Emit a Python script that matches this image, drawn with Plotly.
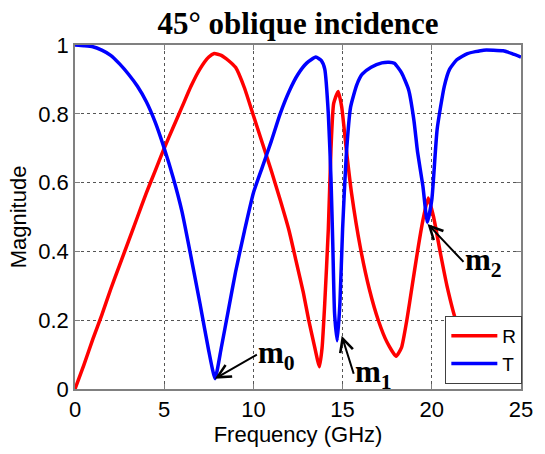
import plotly.graph_objects as go

# Frequency (GHz) and magnitudes
freq_R = [0, 0.5, 1.0, 1.5, 2.0, 2.5, 3.0, 3.5, 4.0, 4.5, 5.0, 5.5, 6.0, 6.5, 7.0, 7.5, 7.8,
          8.2, 8.6, 9.0, 9.5, 10.0, 10.5, 11.0, 11.5, 12.0, 12.4, 12.8, 13.1, 13.4, 13.7,
          13.85, 14.0, 14.2, 14.35, 14.5, 14.75, 14.95, 15.2, 15.5, 16.0, 16.5, 17.0, 17.5,
          18.0, 18.3, 18.6, 18.9, 19.2, 19.5, 19.8, 20.1, 20.5, 20.85, 21.35, 22.0, 22.5,
          23.0, 23.5, 24.0, 24.5, 25.0]
R = [0.0, 0.07, 0.145, 0.215, 0.29, 0.36, 0.43, 0.50, 0.57, 0.635, 0.70, 0.76, 0.82, 0.88,
     0.93, 0.965, 0.975, 0.97, 0.955, 0.935, 0.875, 0.795, 0.715, 0.635, 0.55, 0.46, 0.37,
     0.28, 0.2, 0.13, 0.065, 0.12, 0.25, 0.465, 0.70, 0.83, 0.865, 0.82, 0.70, 0.57, 0.41,
     0.29, 0.2, 0.135, 0.095, 0.12, 0.2, 0.3, 0.4, 0.49, 0.555, 0.5, 0.39, 0.30, 0.20, 0.13,
     0.10, 0.09, 0.09, 0.11, 0.15, 0.21]

freq_T = [0, 0.5, 1.0, 1.5, 2.0, 2.5, 3.0, 3.5, 4.0, 4.5, 5.0, 5.5, 6.0, 6.5, 7.0, 7.5, 7.85,
          8.2, 8.6, 9.0, 9.5, 10.0, 10.5, 11.0, 11.5, 12.0, 12.5, 13.0, 13.5, 13.8, 14.0,
          14.2, 14.35, 14.45, 14.55, 14.7, 14.85, 15.0, 15.2, 15.45, 15.8, 16.1, 16.6, 17.2,
          17.6, 17.9, 18.3, 18.7, 19.0, 19.2, 19.5, 19.75, 20.0, 20.3, 20.7, 21.0, 21.4, 22.0,
          22.9, 24.0, 24.5, 25.0]
T = [1.0, 0.998, 0.995, 0.985, 0.97, 0.945, 0.915, 0.88, 0.835, 0.775, 0.70, 0.615, 0.515,
     0.385, 0.25, 0.11, 0.03, 0.12, 0.23, 0.34, 0.46, 0.57, 0.645, 0.72, 0.80, 0.865, 0.915,
     0.948, 0.965, 0.955, 0.93, 0.80, 0.61, 0.42, 0.22, 0.14, 0.25, 0.465, 0.675, 0.82,
     0.885, 0.915, 0.935, 0.948, 0.95, 0.947, 0.92, 0.87, 0.78, 0.69, 0.59, 0.485, 0.55,
     0.755, 0.88, 0.93, 0.957, 0.975, 0.985, 0.983, 0.975, 0.965]

x_ticks = [0, 5, 10, 15, 20, 25]
y_ticks = [0, 0.2, 0.4, 0.6, 0.8, 1]
y_ticktext = ["0", "0.2", "0.4", "0.6", "0.8", "1"]

# markers: label, point (freq, magnitude), pixel offset of label's left-middle from point
marker_labels = ["m<sub>0</sub>", "m<sub>1</sub>", "m<sub>2</sub>"]
marker_pts = [(7.84, 0.03), (14.95, 0.155), (19.76, 0.48)]
label_offsets = [(42, -24), (12, 38), (36, 38)]

fig = go.Figure()
fig.add_trace(go.Scatter(x=freq_R, y=R, name="R", mode="lines",
                         line=dict(color="#ff0000", width=3.5, shape="spline", smoothing=0.5)))
fig.add_trace(go.Scatter(x=freq_T, y=T, name="T", mode="lines",
                         line=dict(color="#0000ff", width=3.5, shape="spline", smoothing=0.5)))

for lab, (px, py), (ax, ay) in zip(marker_labels, marker_pts, label_offsets):
    fig.add_annotation(x=px, y=py, text="<b>" + lab + "</b>", showarrow=True,
                       ax=ax, ay=ay, xanchor="left", yanchor="middle",
                       arrowhead=5, arrowsize=1.3, arrowwidth=2, arrowcolor="black",
                       standoff=0, borderpad=0,
                       font=dict(family="Liberation Serif", size=31, color="black"))

axis_common = dict(showline=True, linecolor="#808080", linewidth=1.5, mirror="ticks",
                   ticks="inside", ticklen=5, tickcolor="#808080",
                   showgrid=True, gridcolor="#555555", griddash="dot", gridwidth=1,
                   zeroline=False,
                   tickfont=dict(family="Liberation Sans", size=22, color="black"))

fig.update_xaxes(range=[0, 25], tickvals=x_ticks, title=dict(text="Frequency (GHz)",
                 font=dict(family="Liberation Sans", size=22, color="black"), standoff=4),
                 **axis_common)
fig.update_yaxes(range=[0, 1], tickvals=y_ticks, ticktext=y_ticktext,
                 title=dict(text="Magnitude", font=dict(family="Liberation Sans", size=22,
                                                         color="black"), standoff=6),
                 **axis_common)

fig.update_layout(
    width=545, height=454,
    margin=dict(l=75, r=17, t=45, b=63),
    paper_bgcolor="white", plot_bgcolor="white",
    title=dict(text="<b>45° oblique incidence</b>", x=0.5, xref="paper",
               y=(454 - 23) / 454, yref="container", yanchor="middle",
               font=dict(family="Liberation Serif", size=31, color="black")),
    legend=dict(x=1.003, y=0.015, xanchor="right", yanchor="bottom",
                bgcolor="white", bordercolor="#404040", borderwidth=1,
                font=dict(family="Liberation Sans", size=19, color="black"),
                itemwidth=46, tracegroupgap=0),
    showlegend=True,
)

fig.write_html("out.html")
